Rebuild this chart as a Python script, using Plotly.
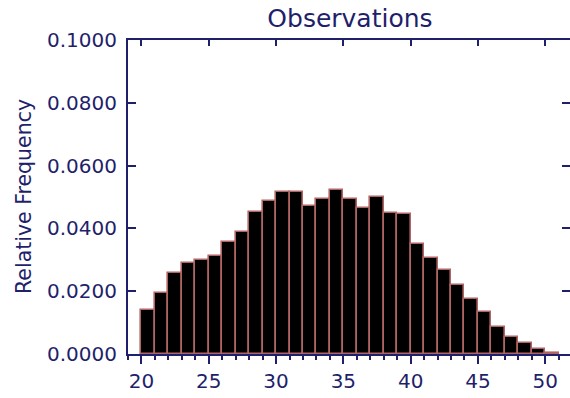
import plotly.graph_objects as go

# Histogram bins (left edges) and relative frequencies
bin_left = list(range(20, 51))
rel_freq = [
    0.0140, 0.0194, 0.0257, 0.0289, 0.0300, 0.0313, 0.0357, 0.0388,
    0.0453, 0.0488, 0.0516, 0.0515, 0.0472, 0.0494, 0.0521, 0.0494,
    0.0465, 0.0499, 0.0450, 0.0446, 0.0351, 0.0305, 0.0267, 0.0220,
    0.0175, 0.0133, 0.0085, 0.0053, 0.0034, 0.0016, 0.0003,
]
x_ticks = [20, 25, 30, 35, 40, 45, 50]
y_ticks = [0.0, 0.02, 0.04, 0.06, 0.08, 0.10]

NAVY = "#1f1f6b"
EDGE = "#b06464"
FONT = "DejaVu Sans"

fig = go.Figure()
fig.add_trace(go.Bar(
    x=[b + 0.5 for b in bin_left],
    y=rel_freq,
    width=1.0,
    marker=dict(color="black", line=dict(color=EDGE, width=1.6)),
    showlegend=False,
    hoverinfo="skip",
))
# empty trace so the top/right frame axes get drawn
fig.add_trace(go.Scatter(x=[], y=[], xaxis="x2", yaxis="y2",
                         showlegend=False, hoverinfo="skip"))

x_range = [19, 51.84]
y_range = [0, 0.1]

fig.update_layout(
    width=570, height=398,
    margin=dict(l=128, r=0, t=40, b=44),
    paper_bgcolor="white", plot_bgcolor="white",
    bargap=0,
    font=dict(family=FONT, color=NAVY, size=20),
    title=dict(text="Observations", x=0.614, xanchor="center",
               xref="container", y=1 - 18 / 398, yref="container",
               yanchor="middle", font=dict(size=25, color=NAVY)),
    xaxis=dict(
        range=x_range, tickvals=x_ticks, ticks="outside", ticklen=8,
        tickwidth=2, tickcolor=NAVY, showline=True, linecolor=NAVY,
        linewidth=2, showgrid=False, zeroline=False,
        minor=dict(tick0=20, dtick=1, ticks="outside", ticklen=4,
                   tickwidth=2, tickcolor=NAVY, showgrid=False),
        tickfont=dict(size=20, color=NAVY),
    ),
    xaxis2=dict(
        range=x_range, overlaying="x", side="top", tickvals=x_ticks,
        ticks="inside", ticklen=6, tickwidth=2, tickcolor=NAVY,
        showline=True, linecolor=NAVY, linewidth=2, showgrid=False,
        zeroline=False, showticklabels=False,
    ),
    yaxis=dict(
        range=y_range, tickvals=y_ticks, tickformat=".4f", ticks="inside",
        ticklen=8, tickwidth=2, tickcolor=NAVY, showline=True,
        linecolor=NAVY, linewidth=2, showgrid=False, zeroline=False,
        ticklabelstandoff=5, tickfont=dict(size=20, color=NAVY),
    ),
    yaxis2=dict(
        range=y_range, overlaying="y", side="right", tickvals=y_ticks,
        ticks="inside", ticklen=8, tickwidth=2, tickcolor=NAVY,
        showline=False, showgrid=False, zeroline=False,
        showticklabels=False,
    ),
    annotations=[dict(
        text="Relative Frequency", textangle=-90, showarrow=False,
        xref="paper", yref="paper", x=(24 - 128) / 442, y=0.5,
        xanchor="center", yanchor="middle",
        font=dict(size=20.5, color=NAVY, family=FONT),
    )],
)

fig.write_html("out.html")
